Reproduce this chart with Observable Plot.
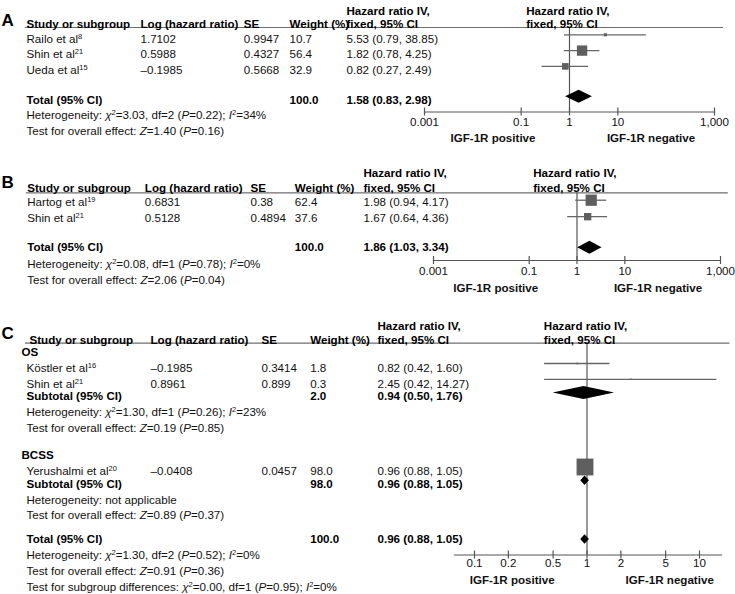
<!DOCTYPE html>
<html>
<head>
<meta charset="utf-8">
<script src="https://cdn.jsdelivr.net/npm/d3@7"></script>
<script src="https://cdn.jsdelivr.net/npm/@observablehq/plot@0.6"></script>
<style>
  html, body { margin: 0; padding: 0; background: #fff; }
  #chart { width: 735px; height: 594px; overflow: hidden; }
  #chart svg { display: block; }
</style>
</head>
<body>
<div id="chart"></div>
<script>
// ================= DATA =================
// column headers
const colHeaders = ["Study or subgroup", "Log (hazard ratio)", "SE", "Weight (%)"];
const ciHeader = ["Hazard ratio IV,", "fixed, 95% CI"];
const favours = ["IGF-1R positive", "IGF-1R negative"];
const ticksWide = [0.001, 0.1, 1, 10, 1000];
const ticksNarrow = [0.1, 0.2, 0.5, 1, 2, 5, 10];

// Panel A
const aNames = ["Railo et al^8^", "Shin et al^21^", "Ueda et al^15^"];
const aLogHR = [1.7102, 0.5988, -0.1985];
const aSE = [0.9947, 0.4327, 0.5668];
const aWeight = [10.7, 56.4, 32.9];
const aHR = [5.53, 1.82, 0.82];
const aLo = [0.79, 0.78, 0.27];
const aHi = [38.85, 4.25, 2.49];
const aTotal = [100.0, 1.58, 0.83, 2.98]; // weight, HR, lower, upper
const aNotes = ["Heterogeneity: *χ*^2^=3.03, df=2 (*P*=0.22); *I*^2^=34%",
                "Test for overall effect: *Z*=1.40 (*P*=0.16)"];

// Panel B
const bNames = ["Hartog et al^19^", "Shin et al^21^"];
const bLogHR = [0.6831, 0.5128];
const bSE = [0.38, 0.4894];
const bWeight = [62.4, 37.6];
const bHR = [1.98, 1.67];
const bLo = [0.94, 0.64];
const bHi = [4.17, 4.36];
const bTotal = [100.0, 1.86, 1.03, 3.34];
const bNotes = ["Heterogeneity: *χ*^2^=0.08, df=1 (*P*=0.78); *I*^2^=0%",
                "Test for overall effect: *Z*=2.06 (*P*=0.04)"];

// Panel C
const cGroups = ["OS", "BCSS"];
const cOSNames = ["Köstler et al^16^", "Shin et al^21^"];
const cOSLogHR = [-0.1985, 0.8961];
const cOSSE = [0.3414, 0.899];
const cOSWeight = [1.8, 0.3];
const cOSHR = [0.82, 2.45];
const cOSLo = [0.42, 0.42];
const cOSHi = [1.60, 14.27];
const cOSSubtotal = [2.0, 0.94, 0.50, 1.76];
const cOSNotes = ["Heterogeneity: *χ*^2^=1.30, df=1 (*P*=0.26); *I*^2^=23%",
                  "Test for overall effect: *Z*=0.19 (*P*=0.85)"];
const cBCSSNames = ["Yerushalmi et al^20^"];
const cBCSSLogHR = [-0.0408];
const cBCSSSE = [0.0457];
const cBCSSWeight = [98.0];
const cBCSSHR = [0.96];
const cBCSSLo = [0.88];
const cBCSSHi = [1.05];
const cBCSSSubtotal = [98.0, 0.96, 0.88, 1.05];
const cBCSSNotes = ["Heterogeneity: not applicable",
                    "Test for overall effect: *Z*=0.89 (*P*=0.37)"];
const cTotal = [100.0, 0.96, 0.88, 1.05];
const cNotes = ["Heterogeneity: *χ*^2^=1.30, df=2 (*P*=0.52); *I*^2^=0%",
                "Test for overall effect: *Z*=0.91 (*P*=0.36)",
                "Test for subgroup differences: *χ*^2^=0.00, df=1 (*P*=0.95); *I*^2^=0%"];

// ================= TABLE BUILDING =================
const studyRows = (names, log, se, w, hr, lo, hi) =>
  names.map((n, i) => ({kind: "study", label: n, log: log[i], se: se[i], w: w[i], hr: hr[i], lo: lo[i], hi: hi[i]}));
const sumRow = (kind, label, t) => ({kind, label, w: t[0], hr: t[1], lo: t[2], hi: t[3]});
const noteRows = notes => notes.map(t => ({kind: "note", label: t}));

const rowsA = [...studyRows(aNames, aLogHR, aSE, aWeight, aHR, aLo, aHi),
  sumRow("total", "Total (95% CI)", aTotal), ...noteRows(aNotes)];
const rowsB = [...studyRows(bNames, bLogHR, bSE, bWeight, bHR, bLo, bHi),
  sumRow("total", "Total (95% CI)", bTotal), ...noteRows(bNotes)];
const rowsC = [
  {kind: "group", label: cGroups[0]},
  ...studyRows(cOSNames, cOSLogHR, cOSSE, cOSWeight, cOSHR, cOSLo, cOSHi),
  sumRow("subtotal", "Subtotal (95% CI)", cOSSubtotal), ...noteRows(cOSNotes),
  {kind: "group", label: cGroups[1]},
  ...studyRows(cBCSSNames, cBCSSLogHR, cBCSSSE, cBCSSWeight, cBCSSHR, cBCSSLo, cBCSSHi),
  sumRow("subtotal", "Subtotal (95% CI)", cBCSSSubtotal), ...noteRows(cBCSSNotes),
  sumRow("total", "Total (95% CI)", cTotal), ...noteRows(cNotes)];

// row order -> row units (layout only)
function place(rows, gaps) {
  let u = 0;
  rows.forEach((r, i) => {
    if (i > 0) u += (r.kind === "subtotal" ? 0.8 : 1) + (gaps[r.kind] || 0);
    r.u = u;
  });
  return rows;
}

const fmtLog = v => String(v).replace("-", "\u2013");
const fmtCI = d => `${d.hr.toFixed(2)} (${d.lo.toFixed(2)}, ${d.hi.toFixed(2)})`;
const FONT = "'Liberation Sans', Arial, Helvetica, sans-serif";

// ================= PANEL =================
function forestPanel(P) {
  const rows = place(P.rows, P.gaps);
  const maxU = d3.max(rows, d => d.u);
  const frameH = P.height - P.marginTop - P.marginBottom;
  const L = px => px - P.marginLeft;
  const FS = 11.6;
  const base = {y: "u", frameAnchor: "left", textAnchor: "start", fontSize: FS, fill: "#111"};
  const studies = rows.filter(d => d.kind === "study");
  const sums = rows.filter(d => d.kind === "subtotal" || d.kind === "total");
  const plainNames = rows.filter(d => d.kind === "study" || d.kind === "note");
  const groups = rows.filter(d => d.kind === "group");
  const gy = d => d.u + P.glyphDy[d.kind] / P.U;
  const dia = sums.flatMap((d, i) => {
    const wpx = P.pxPerDecade * Math.log10(d.hi / d.lo);
    const h = Math.min(6.5, 0.55 * wpx) / P.U;
    const c = gy(d);
    return [{z: i, y: c - h, x1: d.hr, x2: d.hr}, {z: i, y: c, x1: d.lo, x2: d.hi}, {z: i, y: c + h, x1: d.hr, x2: d.hr}];
  });
  const cols = P.cols;
  const hdrCols = [cols.studyHdr, cols.log, cols.se, cols.weight];

  const marks = [
    // header underline
    Plot.frame({anchor: "top", stroke: "#6e6e6e", strokeWidth: 1.2,
      insetLeft: P.line[0] - P.marginLeft, insetRight: (735 - P.marginRight) - P.line[1]}),
    // axis line, reference line, ticks
    Plot.frame({anchor: "bottom", stroke: "#555", strokeWidth: 1.2}),
    Plot.ruleX([1], {stroke: "#555", strokeWidth: 1.2}),
    Plot.ruleX(P.ticks, {x: d => d, insetTop: frameH - 4, insetBottom: -4, stroke: "#555", strokeWidth: 1.2}),
    Plot.text(P.ticks, {x: d => d, text: d3.format(","), frameAnchor: "bottom", dy: P.tickDy, textAnchor: "middle", fontSize: FS, fill: "#111"}),
    Plot.text([favours[0]], {text: d => d, frameAnchor: "bottom-left", dx: P.favDx[0], dy: P.favDy, textAnchor: "middle", fontWeight: "bold", fontSize: FS, fill: "#111"}),
    Plot.text([favours[1]], {text: d => d, frameAnchor: "bottom-right", dx: P.favDx[1], dy: P.favDy, textAnchor: "middle", fontWeight: "bold", fontSize: FS, fill: "#111"}),
    // panel letter
    Plot.text([P.letter], {text: d => d, frameAnchor: "top-left", dx: 1 - P.marginLeft, dy: P.letterDy, textAnchor: "start", fontWeight: "bold", fontSize: 17, fill: "#000"}),
    // column headers
    ...colHeaders.map((h, i) => Plot.text([h], {text: d => d, frameAnchor: "top-left", dx: L(hdrCols[i]), dy: P.hdrDy[1], textAnchor: "start", fontWeight: "bold", fontSize: FS, fill: "#000"})),
    ...[cols.ci, cols.fhdr].flatMap(x => ciHeader.map((h, j) => Plot.text([h], {text: d => d, frameAnchor: "top-left", dx: L(x), dy: P.hdrDy[j], textAnchor: "start", fontWeight: "bold", fontSize: FS, fill: "#000"}))),
    // table text
    Plot.text(plainNames, {...base, text: "label", dx: L(cols.study)}),
    Plot.text(sums, {...base, text: "label", dx: L(cols.study), fontWeight: "bold", fill: "#000"}),
    Plot.text(groups, {...base, text: "label", dx: L(cols.group), fontWeight: "bold", fill: "#000"}),
    Plot.text(studies, {...base, text: d => fmtLog(d.log), dx: L(cols.log)}),
    Plot.text(studies, {...base, text: d => String(d.se), dx: L(cols.se)}),
    Plot.text(studies, {...base, text: d => d.w.toFixed(1), dx: L(cols.weight)}),
    Plot.text(sums, {...base, text: d => d.w.toFixed(1), dx: L(cols.weight), fontWeight: "bold", fill: "#000"}),
    Plot.text(studies, {...base, text: fmtCI, dx: L(cols.ci)}),
    Plot.text(sums, {...base, text: fmtCI, dx: L(cols.ci), fontWeight: "bold", fill: "#000"}),
    // forest glyphs
    Plot.ruleY(studies, {y: gy, x1: "lo", x2: "hi", stroke: "#666", strokeWidth: 1.3}),
    Plot.dot(studies, {x: "hr", y: gy, r: "w", symbol: "square", fill: "#5f5f5f"}),
    Plot.areaX(dia, {x1: "x1", x2: "x2", y: "y", z: "z", fill: "#000", curve: "linear"})
  ];

  const svg = Plot.plot({
    width: 735, height: P.height,
    marginTop: P.marginTop, marginBottom: P.marginBottom,
    marginLeft: P.marginLeft, marginRight: P.marginRight,
    x: {type: "log", domain: P.xDomain, ...(P.xRange ? {range: P.xRange} : {}), axis: null},
    y: {type: "linear", domain: [0, maxU], range: [P.firstY, P.firstY + maxU * P.U], axis: null},
    r: {type: "linear", domain: [0, 100], range: [0.8, 9.7]},
    style: {fontFamily: FONT, fontSize: "11.6px", color: "#111", background: "#fff", overflow: "visible"},
    marks
  });
  richify(svg);
  return svg;
}

// *italic* and ^superscript^ markup -> tspans
function richify(svg) {
  d3.select(svg).selectAll("text").each(function () {
    const el = this;
    if (el.querySelector("tspan")) return;
    const s = el.textContent;
    if (!/[*^]/.test(s)) return;
    el.textContent = "";
    let shift = 0;
    s.split(/(\*[^*]+\*|\^[^^]+\^)/g).forEach(part => {
      if (!part) return;
      const t = d3.select(el).append("tspan");
      if (part[0] === "^") {
        t.attr("font-size", "7.5px").attr("dy", -4).text(part.slice(1, -1));
        shift = 4;
      } else {
        if (shift) { t.attr("dy", shift); shift = 0; }
        if (part[0] === "*") t.attr("font-style", "italic").text(part.slice(1, -1));
        else t.text(part);
      }
    });
  });
}

const panels = [
  { letter: "A", rows: rowsA, gaps: {total: 0.86}, height: 155,
    marginTop: 27, marginBottom: 43.5, marginLeft: 424, marginRight: 21,
    xDomain: [0.001, 1000], pxPerDecade: 290 / 6, ticks: ticksWide,
    firstY: 38.3, U: 15.8, line: [25, 722], hdrDy: [-21, -8], letterDy: -13.7,
    cols: {studyHdr: 26, study: 26, group: 21, log: 140, se: 243.3, weight: 289, ci: 346, fhdr: 525.7},
    tickDy: 13.5, favDy: 30, favDx: [68.5, -63.5],
    glyphDy: {study: -4, subtotal: -3, total: -3} },
  { letter: "B", rows: rowsB, gaps: {total: 0.76}, height: 150,
    marginTop: 37.3, marginBottom: 45, marginLeft: 433, marginRight: 15,
    xDomain: [0.001, 1000], pxPerDecade: 287 / 6, ticks: ticksWide,
    firstY: 46.7, U: 16.5, line: [26, 726.7], hdrDy: [-24, -9], letterDy: -16.5,
    cols: {studyHdr: 26.7, study: 26.7, group: 21, log: 144.3, se: 250, weight: 294.3, ci: 363, fhdr: 532.7},
    tickDy: 14, favDy: 31, favDx: [62.2, -62.5],
    glyphDy: {study: -2, subtotal: 0, total: 0} },
  { letter: "C", rows: rowsC, gaps: {group: 0.75, total: 0.5}, height: 289,
    marginTop: 37.7, marginBottom: 39.5, marginLeft: 454, marginRight: 14,
    xDomain: [0.1, 10], xRange: [474, 699], pxPerDecade: 112.5, ticks: ticksNarrow,
    firstY: 46.7, U: 15.8, line: [25, 728.3], hdrDy: [-21, -7.7], letterDy: -16.7,
    cols: {studyHdr: 29, study: 26, group: 21, log: 150, se: 261, weight: 309.7, ci: 377, fhdr: 543.3},
    tickDy: 11.5, favDy: 28.8, favDx: [57.7, -51.8],
    glyphDy: {study: -4.5, subtotal: -3.5, total: 0} }
];

const chart = document.getElementById("chart");
panels.forEach(P => chart.appendChild(forestPanel(P)));
</script>
</body>
</html>
